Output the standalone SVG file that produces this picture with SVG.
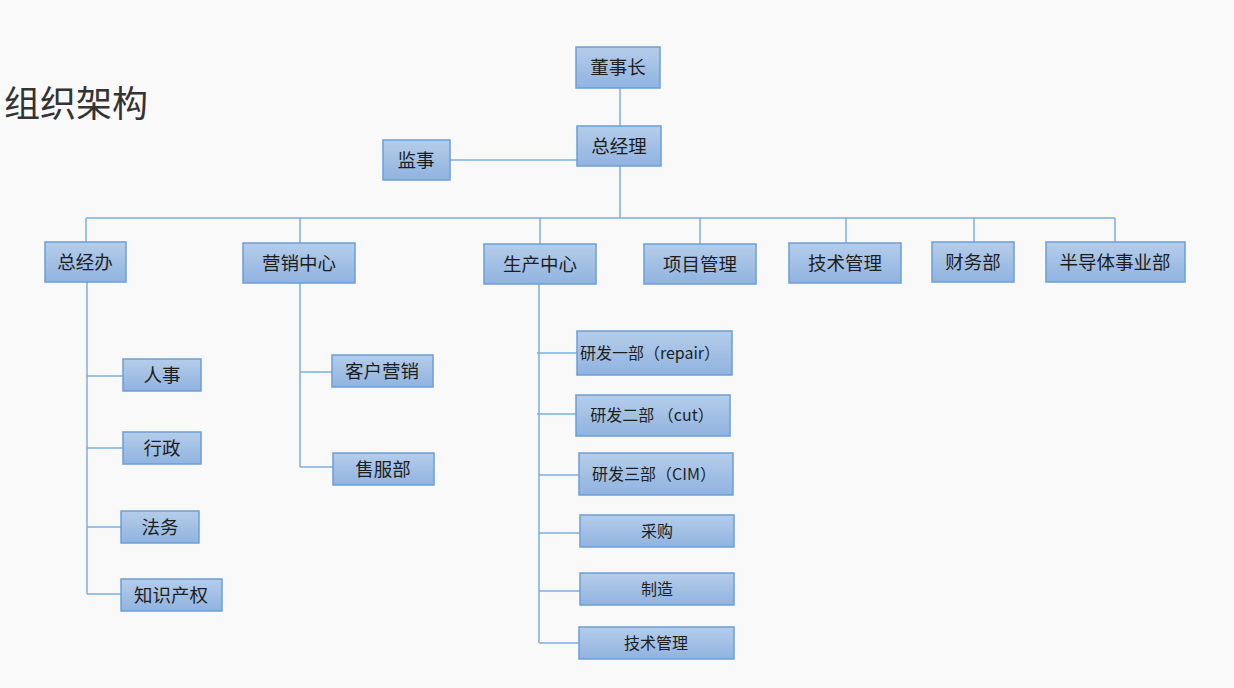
<svg xmlns="http://www.w3.org/2000/svg" width="1234" height="688" viewBox="0 0 1234 688">
<defs>
<linearGradient id="g" x1="0" y1="0" x2="0" y2="1">
<stop offset="0" stop-color="#b5cdea"/>
<stop offset="1" stop-color="#90b3e0"/>
</linearGradient>
<style>
.b{fill:url(#g);stroke:#6a9fd8;stroke-width:1.5}
.t{font-family:"Noto Sans CJK SC","Liberation Sans",sans-serif;fill:#1e1e1e;text-anchor:middle;dominant-baseline:central}
.l{font-size:18.5px}
.s{font-size:16px}
.c line{stroke:#7aaee0;stroke-width:1.5}
</style>
</defs>
<rect width="1234" height="688" fill="#f9f9f9"/>
<text x="4" y="117" font-family="Noto Sans CJK SC,sans-serif" font-size="36" fill="#333">组织架构</text>
<g class="c" id="connectors">
<line x1="620" y1="88" x2="620" y2="126"/>
<line x1="450" y1="160" x2="577" y2="160"/>
<line x1="620" y1="166" x2="620" y2="218"/>
<line x1="86" y1="218" x2="1115" y2="218"/>
<line x1="86" y1="218" x2="86" y2="242"/>
<line x1="300" y1="218" x2="300" y2="243"/>
<line x1="540" y1="218" x2="540" y2="244"/>
<line x1="700" y1="218" x2="700" y2="244"/>
<line x1="846" y1="218" x2="846" y2="243"/>
<line x1="974" y1="218" x2="974" y2="242"/>
<line x1="1115" y1="218" x2="1115" y2="242"/>
<line x1="87" y1="282" x2="87" y2="594"/>
<line x1="87" y1="376" x2="123" y2="376"/>
<line x1="87" y1="448" x2="123" y2="448"/>
<line x1="87" y1="527" x2="121" y2="527"/>
<line x1="87" y1="594" x2="121" y2="594"/>
<line x1="300" y1="283" x2="300" y2="467"/>
<line x1="300" y1="372" x2="332" y2="372"/>
<line x1="300" y1="467" x2="333" y2="467"/>
<line x1="539" y1="284" x2="539" y2="643"/>
<line x1="537" y1="353" x2="577" y2="353"/>
<line x1="537" y1="414" x2="576" y2="414"/>
<line x1="539" y1="475" x2="579" y2="475"/>
<line x1="539" y1="533" x2="580" y2="533"/>
<line x1="539" y1="591" x2="580" y2="591"/>
<line x1="539" y1="643" x2="579" y2="643"/>
</g>
<g id="n-dsz"><rect class="b" x="576" y="47" width="84" height="41"/><text class="t l" x="618" y="66">董事长</text></g>
<g id="n-zjl"><rect class="b" x="577" y="126" width="84" height="40"/><text class="t l" x="619" y="145">总经理</text></g>
<g id="n-js"><rect class="b" x="383" y="140" width="67" height="40"/><text class="t l" x="416" y="159">监事</text></g>
<g id="n-zjb"><rect class="b" x="45" y="242" width="81" height="40"/><text class="t l" x="85" y="261">总经办</text></g>
<g id="n-yx"><rect class="b" x="243" y="243" width="112" height="40"/><text class="t l" x="299" y="262">营销中心</text></g>
<g id="n-sc"><rect class="b" x="484" y="244" width="112" height="40"/><text class="t l" x="540" y="263">生产中心</text></g>
<g id="n-xm"><rect class="b" x="644" y="244" width="112" height="40"/><text class="t l" x="700" y="263">项目管理</text></g>
<g id="n-js2"><rect class="b" x="789" y="243" width="112" height="40"/><text class="t l" x="845" y="262">技术管理</text></g>
<g id="n-cw"><rect class="b" x="932" y="242" width="82" height="40"/><text class="t l" x="973" y="261">财务部</text></g>
<g id="n-bdt"><rect class="b" x="1046" y="242" width="139" height="40"/><text class="t l" x="1115" y="261">半导体事业部</text></g>
<g id="n-rs"><rect class="b" x="123" y="359" width="78" height="32"/><text class="t l" x="162" y="374">人事</text></g>
<g id="n-xz"><rect class="b" x="123" y="432" width="78" height="32"/><text class="t l" x="162" y="447">行政</text></g>
<g id="n-fw"><rect class="b" x="121" y="511" width="78" height="32"/><text class="t l" x="160" y="526">法务</text></g>
<g id="n-zscq"><rect class="b" x="121" y="579" width="101" height="32"/><text class="t l" x="171" y="594">知识产权</text></g>
<g id="n-khyx"><rect class="b" x="332" y="355" width="101" height="32"/><text class="t l" x="382" y="370">客户营销</text></g>
<g id="n-sfb"><rect class="b" x="333" y="453" width="101" height="32"/><text class="t l" x="383" y="468">售服部</text></g>
<g id="n-yf1"><rect class="b" x="577" y="331" width="155" height="44"/><text class="t s" x="650" y="352">研发一部（repair）</text></g>
<g id="n-yf2"><rect class="b" x="576" y="395" width="154" height="41"/><text class="t s" x="652" y="414">研发二部 （cut）</text></g>
<g id="n-yf3"><rect class="b" x="579" y="453" width="154" height="42"/><text class="t s" x="654" y="473">研发三部（CIM）</text></g>
<g id="n-cg"><rect class="b" x="580" y="515" width="154" height="32"/><text class="t s" x="657" y="530">采购</text></g>
<g id="n-zz"><rect class="b" x="580" y="573" width="154" height="32"/><text class="t s" x="657" y="588">制造</text></g>
<g id="n-jsgl"><rect class="b" x="579" y="627" width="155" height="32"/><text class="t s" x="656" y="642">技术管理</text></g>
</svg>
